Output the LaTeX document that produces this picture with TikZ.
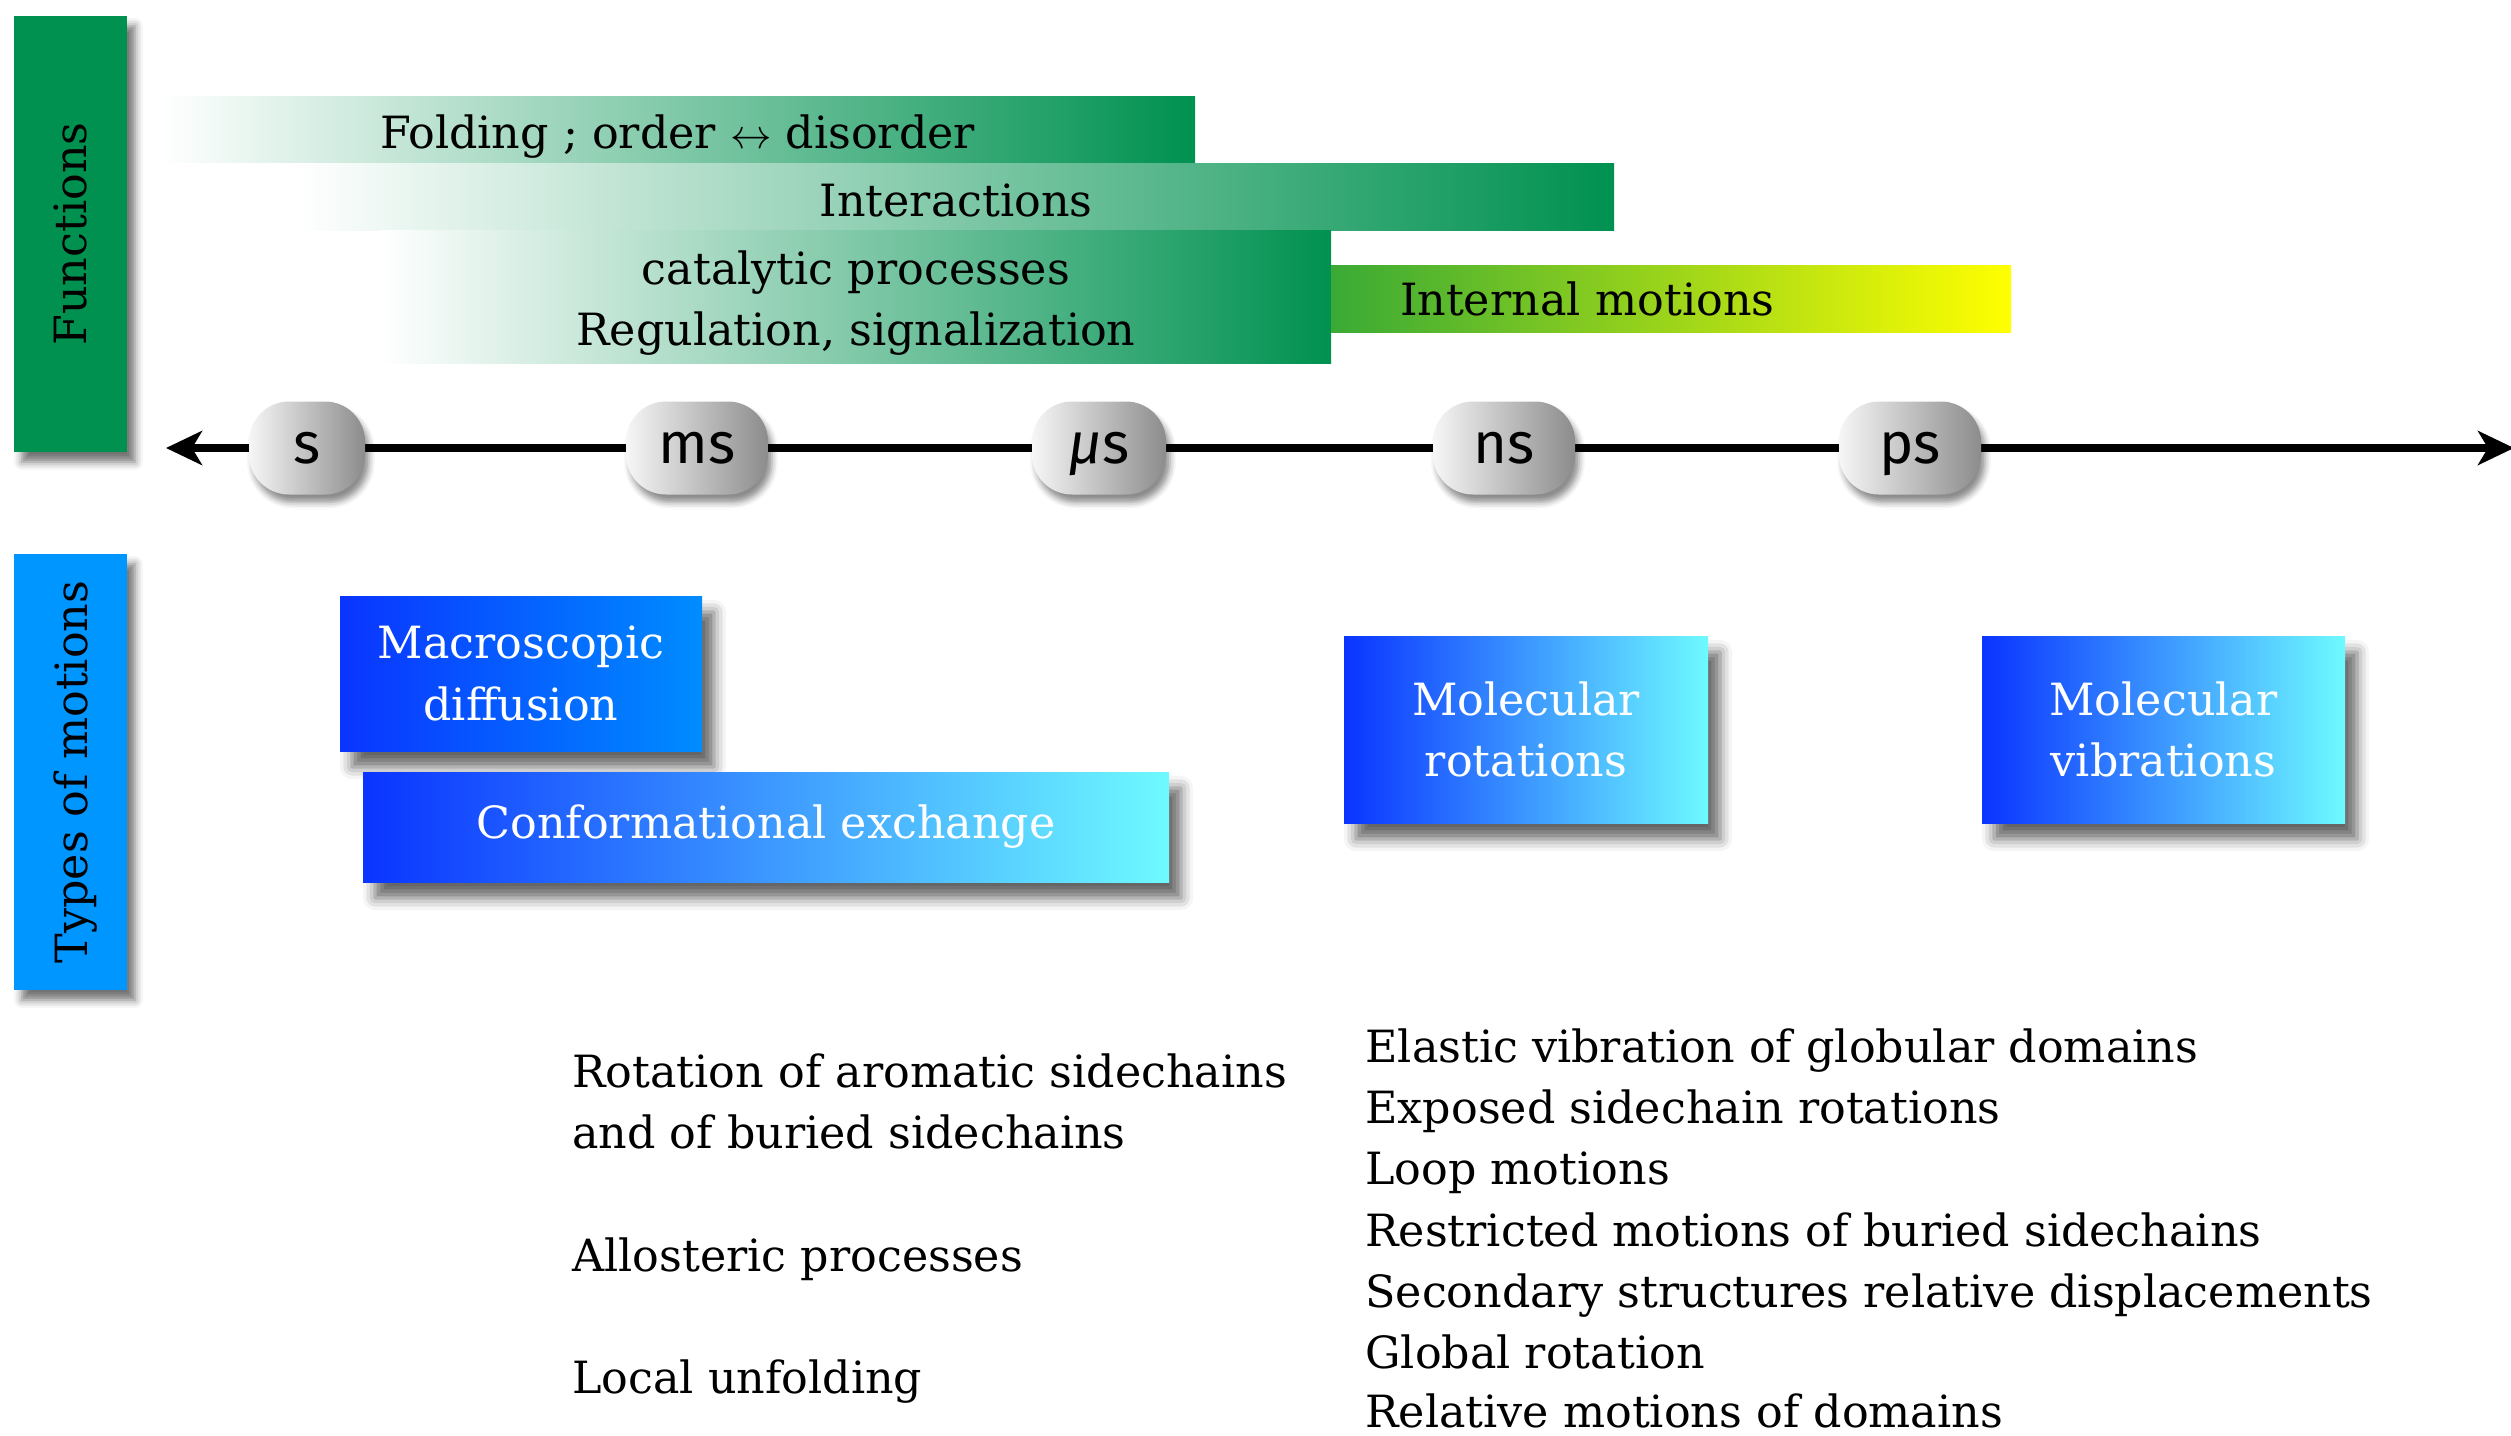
\documentclass[tikz,border=0pt]{standalone}
\usepackage{fontspec}
\setmainfont{DejaVu Serif}
\newfontfamily\pillfont{Fira Sans}
\usetikzlibrary{arrows.meta,shadows.blur}

\definecolor{fgreen}{RGB}{0,145,80}
\definecolor{tblue}{RGB}{0,150,255}
\definecolor{dblue}{RGB}{10,52,255}
\definecolor{azure}{RGB}{0,140,255}
\definecolor{cyanl}{RGB}{110,250,255}
\definecolor{igreen}{RGB}{58,170,53}
\definecolor{iyellow}{RGB}{255,255,0}
\definecolor{pillL}{RGB}{246,246,246}
\definecolor{pillR}{RGB}{140,140,140}

\begin{document}
\begin{tikzpicture}[x=0.5pt,y=-0.5pt,
  txt/.style={font=\fontsize{22.2pt}{30.6pt}\selectfont},
  sidebar/.style={minimum width=56.5pt,minimum height=218pt,inner sep=0pt,
    blur shadow={shadow xshift=4pt,shadow yshift=-5pt,shadow blur radius=4pt,shadow opacity=55}},
  sidelabel/.style={txt,rotate=90,text depth=0pt,inner sep=0pt},
  band/.style={txt,inner sep=0pt,align=center,left color=white,right color=fgreen,
    text height=19.8pt,text depth=0pt},
  motionbox/.style={txt,inner sep=0pt,align=center,text=white,
    left color=dblue,right color=cyanl,
    blur shadow={shadow xshift=6pt,shadow yshift=-8pt,shadow blur radius=6pt,shadow opacity=60}},
  pill/.style={font=\pillfont\fontsize{29pt}{32pt}\selectfont,
    rounded corners=20pt,inner sep=0pt,minimum height=46.5pt,
    text height=15.3pt,text depth=0pt,
    left color=pillL,right color=pillR,
    blur shadow={shadow xshift=2pt,shadow yshift=-4pt,shadow blur radius=3pt,shadow opacity=45}},
  lowtext/.style={txt,inner sep=0pt,anchor=base west,text depth=0pt},
  axisline/.style={line width=3.6pt,
    {Stealth[length=18pt,width=17pt,inset=5pt]}-{Stealth[length=18pt,width=17pt,inset=5pt]}}
]
\useasboundingbox (0,0) rectangle (2511,1435);
\clip (0,0) rectangle (2511,1435);

% side bars
\node[sidebar,fill=fgreen] (fn) at (70.5,234) {};
\node[sidelabel] (fnt) at (fn.center) {Functions};
\node[sidebar,fill=tblue] (tm) at (70.5,772) {};
\node[sidelabel] (tmt) at (tm.center) {Types of motions};

% functional bands
\node[band,minimum width=517.5pt,minimum height=33pt] (fold) at (677.5,129)
  {Folding ; order $\leftrightarrow$ disorder};
\node[band,minimum width=658pt,minimum height=33.5pt] (inter) at (956,196.5)
  {Interactions};
\node[band,text height=49.3pt,minimum width=475pt,minimum height=66.5pt] (cata) at (856,296.5)
  {catalytic processes\\Regulation, signalization};
\node[txt,inner ysep=0pt,inner xsep=34.5pt,minimum width=340pt,minimum height=33.5pt,
  text width=271pt,align=left,
  left color=igreen,right color=iyellow] (intm) at (1671,298.5)
  {Internal motions};

% time axis
\coordinate (axL) at (166,448);
\coordinate (axR) at (2514,448);
\draw[axisline] (axL) -- (axR);

\node[pill,minimum width=58pt] (sec) at (307,448) {s};
\node[pill,minimum width=71pt] (msec) at (697,448) {ms};
\node[pill,minimum width=67pt] (usec) at (1099,448) {{\itshape μ}s};
\node[pill,minimum width=71pt] (nsec) at (1504,448) {ns};
\node[pill,minimum width=71pt] (psec) at (1910,448) {ps};

% types of motions
\node[motionbox,minimum width=181pt,minimum height=77.5pt,right color=azure] (macro) at (521,673.5)
  {Macroscopic\\diffusion};
\node[motionbox,minimum width=403pt,minimum height=55pt] (conf) at (766,827)
  {Conformational exchange};
\node[motionbox,minimum width=182pt,minimum height=93.5pt] (rot) at (1526,729.5)
  {Molecular\\rotations};
\node[motionbox,minimum width=181.5pt,minimum height=93.5pt] (vib) at (2163.5,729.5)
  {Molecular\\vibrations};

% slower motions
\node[lowtext] (l1) at (572,1087.5) {Rotation of aromatic sidechains};
\node[lowtext] (l2) at (572,1148.7) {and of buried sidechains};
\node[lowtext] (l3) at (572,1271.1) {Allosteric processes};
\node[lowtext] (l4) at (572,1393.5) {Local unfolding};

% faster motions
\node[lowtext] (r1) at (1365,1062.5) {Elastic vibration of globular domains};
\node[lowtext] (r2) at (1365,1123.7) {Exposed sidechain rotations};
\node[lowtext] (r3) at (1365,1184.9) {Loop motions};
\node[lowtext] (r4) at (1365,1246.1) {Restricted motions of buried sidechains};
\node[lowtext] (r5) at (1365,1307.3) {Secondary structures relative displacements};
\node[lowtext] (r6) at (1365,1368.5) {Global rotation};
\node[lowtext] (r7) at (1365,1427) {Relative motions of domains};
\end{tikzpicture}
\end{document}
